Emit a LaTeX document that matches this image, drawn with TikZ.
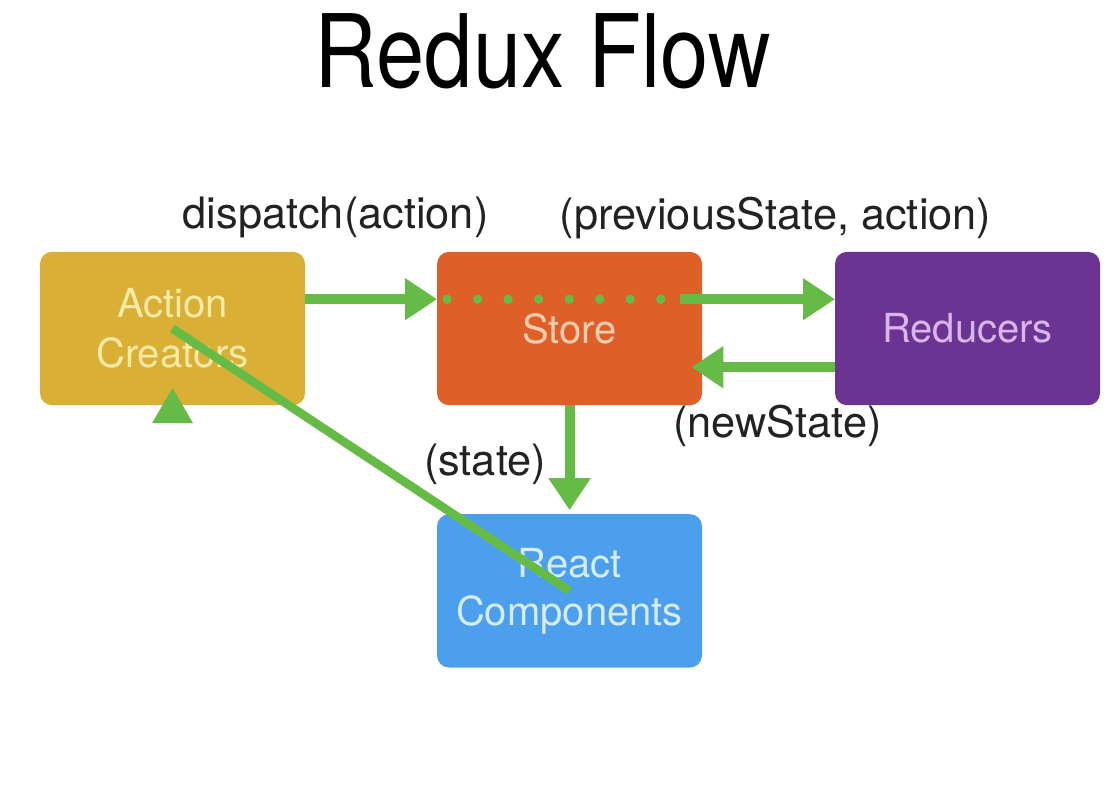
\documentclass[tikz,border=0pt]{standalone}
\usepackage{fontspec}
\setmainfont{TeX Gyre Heros}
\usepackage{graphicx}
\usetikzlibrary{positioning,arrows.meta}

\definecolor{acyellow}{HTML}{D9AF35}
\definecolor{actext}{HTML}{F7EBA6}
\definecolor{storeorange}{HTML}{DF5F28}
\definecolor{storetext}{HTML}{F6CDB0}
\definecolor{redpurple}{HTML}{6B3493}
\definecolor{redtext}{HTML}{D9B5EC}
\definecolor{rcblue}{HTML}{4C9FEC}
\definecolor{rctext}{HTML}{D6EBFB}
\definecolor{flowgreen}{HTML}{66BB46}
\definecolor{lbltext}{HTML}{222222}

\begin{document}
\begin{tikzpicture}[
  box/.style={rounded corners=9pt,align=center,minimum width=198.75pt,minimum height=115pt,inner sep=0pt,outer sep=0pt,font=\fontsize{30}{37.5}\selectfont},
  lbl/.style={anchor=base,text=lbltext,inner sep=0pt,font=\fontsize{32.5}{39}\selectfont},
  arr/.style={-{Triangle[length=24pt,width=30pt]},line width=7.5pt,draw=flowgreen},
  dots/.style={draw=flowgreen,line width=7pt,line cap=round,dash pattern=on 0pt off 22.9pt}
]
\node[box,fill=acyellow,text=actext] (ac) at (0,0) {Action\\Creators};
\node[box,fill=storeorange,text=storetext,right=99pt of ac] (store) {Store};
\node[box,fill=redpurple,text=redtext,right=99.75pt of store] (reducers) {Reducers};
\node[box,fill=rcblue,text=rctext,below=81.75pt of store,font=\fontsize{30}{36}\selectfont] (rc) {React\\Components};
\useasboundingbox (-129.4pt,246.4pt) rectangle (704.6pt,-349.1pt);

\node[anchor=base,inner sep=0pt,font=\fontsize{65}{78}\selectfont] (title) at ([shift={(-20pt,123pt)}]store.north) {\scalebox{1}[1.17]{Redux Flow}};
\node[lbl] (dispatch) at ([shift={(22.9pt,17.25pt)}]ac.north east) {dispatch(action)};
\node[lbl] (prev) at ([shift={(55.1pt,16.5pt)}]store.north east) {(previousState, action)};
\node[lbl] (newstate) at ([shift={(56.6pt,-24pt)}]store.south east) {(newState)};
\node[lbl] (state) at ([shift={(36pt,29.25pt)}]rc.north west) {(state)};

\draw[arr] ([yshift=22pt]ac.east) -- ([yshift=22pt]store.west);
\draw[dots] ([shift={(7.5pt,22pt)}]store.west) -- ([shift={(-30pt,22pt)}]store.east);
\draw[arr] ([shift={(-16.5pt,22pt)}]store.east) -- ([yshift=22pt]reducers.west);
\draw[arr] ([yshift=-29pt]reducers.west) -- ([shift={(-8pt,-29pt)}]store.east);
\draw[arr] (store.south) -- ([yshift=3pt]rc.north);
\draw[flowgreen,line width=6.5pt] (rc.center) -- (ac.center);
\fill[flowgreen] ([yshift=12.75pt]ac.south) -- ++(15.4pt,-26.25pt) -- ++(-30.8pt,0pt) -- cycle;
\end{tikzpicture}
\end{document}
